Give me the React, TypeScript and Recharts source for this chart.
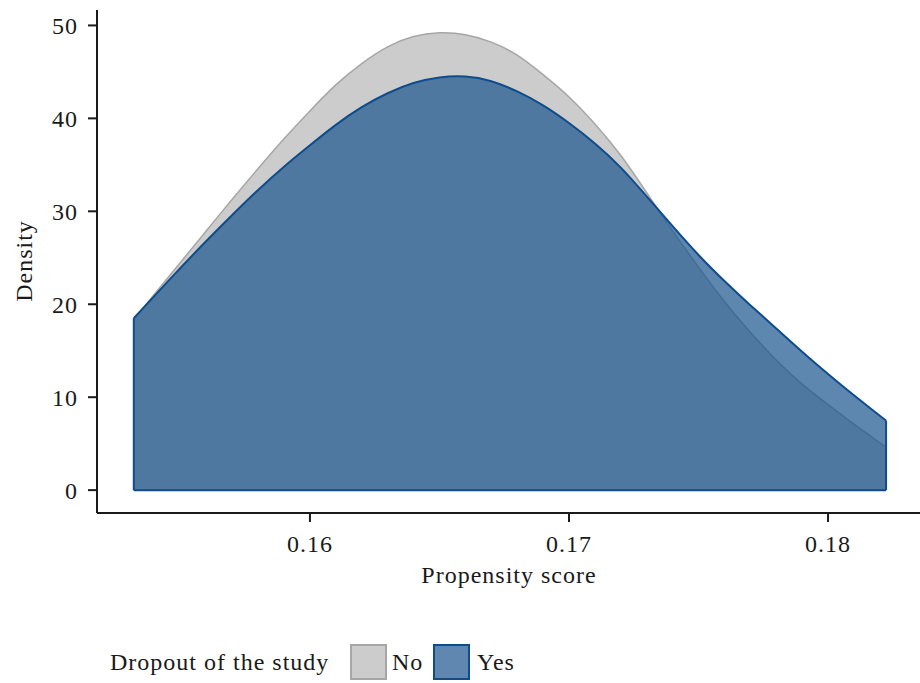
import React from "react";
import { ComposedChart, Area, XAxis, YAxis, ReferenceLine } from "recharts";

// propensity score grid and density readings for both groups
const propensity = [
  0.1532, 0.154, 0.155, 0.156, 0.157, 0.158, 0.159, 0.16, 0.161, 0.162, 0.163,
  0.164, 0.165, 0.166, 0.167, 0.168, 0.169, 0.17, 0.171, 0.172, 0.173, 0.174,
  0.175, 0.176, 0.177, 0.178, 0.179, 0.18, 0.181, 0.182, 0.18224,
];
const densityNo = [
  18.3, 21.1, 24.5, 27.9, 31.3, 34.6, 37.8, 40.8, 43.6, 45.9, 47.7, 48.8,
  49.2, 49.0, 48.2, 46.8, 44.7, 42.3, 39.4, 36.0, 32.0, 27.9, 24.0, 20.3,
  17.0, 14.0, 11.4, 9.2, 7.1, 5.1, 4.6,
];
const densityYes = [
  18.5, 20.9, 23.9, 26.8, 29.6, 32.3, 34.8, 37.1, 39.3, 41.2, 42.7, 43.8,
  44.4, 44.5, 44.0, 42.9, 41.4, 39.5, 37.3, 34.7, 31.6, 28.4, 25.3, 22.5,
  19.9, 17.4, 14.9, 12.5, 10.2, 8.0, 7.5,
];
const xTicks = [0.16, 0.17, 0.18];
const yTicks = [0, 10, 20, 30, 40, 50];
const groups = ["No", "Yes"];

const data = propensity.map((x, i) => ({
  x,
  no: [0, densityNo[i]],
  yes: [0, densityYes[i]],
}));

const FONT = "'Liberation Serif', 'Times New Roman', serif";
const INK = "#1a1a1a";
const GRAY_FILL = "#cccccc";
const GRAY_LINE = "#a6a6a6";
const BLUE_FILL = "#1a548e";
const BLUE_LINE = "#0f4c8c";

const textStyle = { fontSize: 24, fontFamily: FONT, fill: INK, letterSpacing: 1 };

const last = propensity.length - 1;

export default function App() {
  return (
    <div style={{ position: "relative", width: 920, height: 683, fontFamily: FONT }}>
      <style>{"body{margin:0}"}</style>
      <ComposedChart
        width={920}
        height={683}
        data={data}
        margin={{ top: 10, right: 0, bottom: 110, left: 0 }}
      >
        <XAxis
          dataKey="x"
          type="number"
          domain={[0.15178, 0.18355]}
          allowDataOverflow
          ticks={xTicks}
          interval={0}
          tickFormatter={(v: number) => v.toFixed(2)}
          height={60}
          tickSize={9}
          tickMargin={13}
          axisLine={{ stroke: INK, strokeWidth: 2 }}
          tickLine={{ stroke: INK, strokeWidth: 2 }}
          tick={textStyle}
          label={{
            content: () => (
              <text x={509} y={583} textAnchor="middle" {...textStyle}>
                Propensity score
              </text>
            ),
          }}
        />
        <YAxis
          type="number"
          domain={[-2.46, 51.66]}
          allowDataOverflow
          ticks={yTicks}
          interval={0}
          width={97}
          tickSize={9}
          tickMargin={10}
          axisLine={{ stroke: INK, strokeWidth: 2 }}
          tickLine={{ stroke: INK, strokeWidth: 2 }}
          tick={textStyle}
          label={{
            content: () => (
              <text
                x={32}
                y={261}
                textAnchor="middle"
                transform="rotate(-90 32 261)"
                {...textStyle}
              >
                Density
              </text>
            ),
          }}
        />
        <Area
          dataKey="no"
          type="natural"
          fill={GRAY_FILL}
          fillOpacity={1}
          stroke={GRAY_LINE}
          strokeWidth={1.5}
          isAnimationActive={false}
          dot={false}
          activeDot={false}
        />
        <Area
          dataKey="yes"
          type="natural"
          fill={BLUE_FILL}
          fillOpacity={0.7}
          stroke={BLUE_LINE}
          strokeWidth={2}
          isAnimationActive={false}
          dot={false}
          activeDot={false}
        />
        <ReferenceLine
          segment={[
            { x: propensity[0], y: 0 },
            { x: propensity[0], y: densityYes[0] },
          ]}
          stroke={BLUE_LINE}
          strokeWidth={2}
        />
        <ReferenceLine
          segment={[
            { x: propensity[last], y: 0 },
            { x: propensity[last], y: densityYes[last] },
          ]}
          stroke={BLUE_LINE}
          strokeWidth={2}
        />
      </ComposedChart>

      {/* legend */}
      <div
        style={{
          position: "absolute",
          left: 110,
          top: 644,
          height: 36,
          lineHeight: "36px",
          fontSize: 24,
          letterSpacing: 1,
          color: INK,
          whiteSpace: "nowrap",
        }}
      >
        Dropout of the study
      </div>
      {groups.map((g, i) => (
        <React.Fragment key={g}>
          <div
            style={{
              position: "absolute",
              left: i === 0 ? 350 : 433,
              top: 644,
              width: 37,
              height: 36,
              boxSizing: "border-box",
              background: i === 0 ? GRAY_FILL : "#5f87b0",
              border: `2px solid ${i === 0 ? GRAY_LINE : BLUE_LINE}`,
            }}
          />
          <div
            style={{
              position: "absolute",
              left: i === 0 ? 392 : 477,
              top: 644,
              height: 36,
              lineHeight: "36px",
              fontSize: 24,
              letterSpacing: 1,
              color: INK,
            }}
          >
            {g}
          </div>
        </React.Fragment>
      ))}
    </div>
  );
}
